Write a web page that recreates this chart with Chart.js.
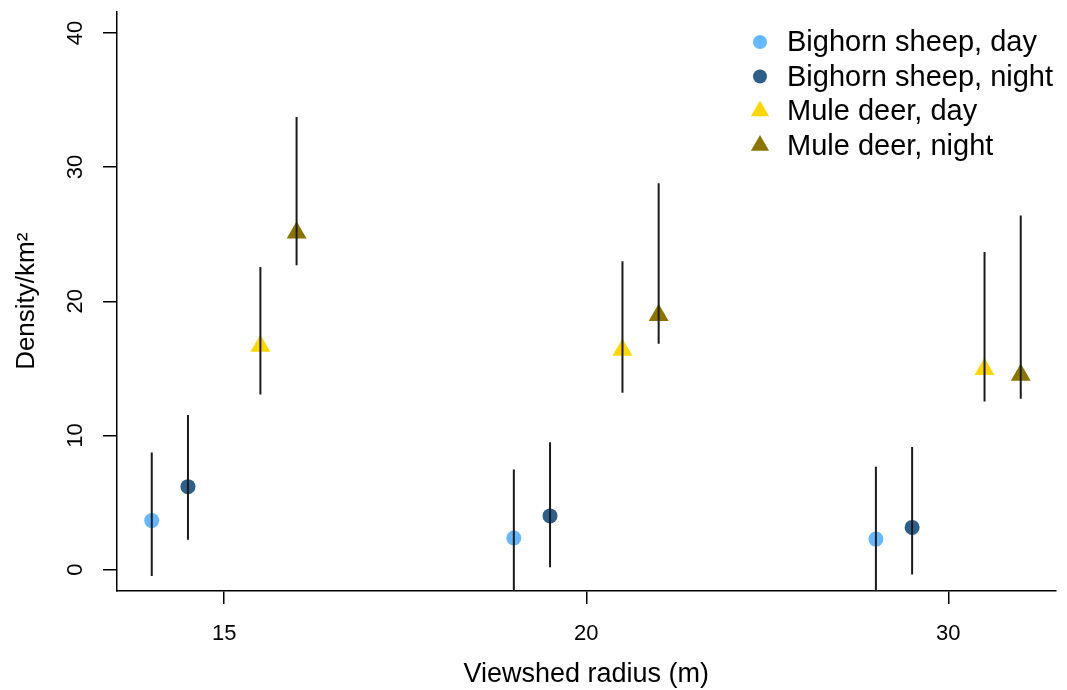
<!DOCTYPE html>
<html>
<head>
<meta charset="utf-8">
<script src="https://cdn.jsdelivr.net/npm/chart.js@4.4.1/dist/chart.umd.min.js"></script>
<style>
  html, body { margin: 0; padding: 0; background: #fff; }
  #wrap { position: relative; width: 1067px; height: 690px; }
</style>
</head>
<body>
<div id="wrap"><canvas id="densityChart"></canvas></div>
<script>
    // Categories and tick labels
    const radii = ['15', '20', '30'];
    const yTicks = [0, 10, 20, 30, 40];
    const groups = ['Bighorn sheep, day', 'Bighorn sheep, night', 'Mule deer, day', 'Mule deer, night'];
    const offsets = [-0.2, -0.1, 0.1, 0.2];

    // Density estimates and confidence limits (per km2)
    const sheepDay = [3.65, 2.35, 2.27];
    const sheepDayLo = [-0.49, -2.3, -2.5];
    const sheepDayHi = [8.72, 7.46, 7.66];

    const sheepNight = [6.18, 4.0, 3.14];
    const sheepNightLo = [2.22, 0.17, -0.37];
    const sheepNightHi = [11.52, 9.49, 9.14];

    const deerDay = [16.66, 16.37, 14.94];
    const deerDayLo = [13.05, 13.17, 12.53];
    const deerDayHi = [22.56, 22.98, 23.67];

    const deerNight = [25.1, 18.95, 14.5];
    const deerNightLo = [22.68, 16.83, 12.73];
    const deerNightHi = [33.73, 28.79, 26.39];

    const colors = ['#63B8FF', '#2E5E8A', '#FFD700', '#8B7500'];
    const styles = ['circle', 'circle', 'triangle', 'triangle'];
    const sizes = [7.5, 7.5, 11.5, 11.5];

    const series = [
        [sheepDay, sheepDayLo, sheepDayHi],
        [sheepNight, sheepNightLo, sheepNightHi],
        [deerDay, deerDayLo, deerDayHi],
        [deerNight, deerNightLo, deerNightHi]
    ];

    Chart.defaults.font.family = "'Liberation Sans', Arial, sans-serif";
    Chart.defaults.color = '#000';

    const datasets = series.map((s, k) => ({
        label: groups[k],
        data: s[0].map((v, i) => ({ x: i + 1 + offsets[k], y: v, lo: s[1][i], hi: s[2][i] })),
        pointStyle: styles[k],
        pointRadius: sizes[k],
        backgroundColor: colors[k],
        borderWidth: 0,
        showLine: false
    }));

    // vertical error bars, clipped to the plot region like base R
    const errorBars = {
        id: 'errorBars',
        afterDatasetsDraw(chart) {
            const { ctx, chartArea, scales } = chart;
            ctx.save();
            ctx.beginPath();
            ctx.rect(chartArea.left, chartArea.top, chartArea.right - chartArea.left, chartArea.bottom - chartArea.top);
            ctx.clip();
            ctx.strokeStyle = '#1a1a1a';
            ctx.lineWidth = 2;
            chart.data.datasets.forEach(ds => {
                ds.data.forEach(p => {
                    const x = scales.x.getPixelForValue(p.x);
                    ctx.beginPath();
                    ctx.moveTo(x, scales.y.getPixelForValue(p.lo));
                    ctx.lineTo(x, scales.y.getPixelForValue(p.hi));
                    ctx.stroke();
                });
            });
            ctx.restore();
        }
    };

    // legend in the top right corner, no box
    const cornerLegend = {
        id: 'cornerLegend',
        afterDraw(chart) {
            const ctx = chart.ctx;
            const x0 = 760, y0 = 42, step = 34.5;
            ctx.save();
            ctx.font = "29px 'Liberation Sans', Arial, sans-serif";
            ctx.textBaseline = 'middle';
            groups.forEach((g, k) => {
                const y = y0 + k * step;
                ctx.fillStyle = colors[k];
                ctx.beginPath();
                if (styles[k] === 'circle') {
                    ctx.arc(x0, y, 7, 0, Math.PI * 2);
                } else {
                    const r = 10.5;
                    ctx.moveTo(x0, y - r);
                    ctx.lineTo(x0 + r * 0.866, y + r / 2);
                    ctx.lineTo(x0 - r * 0.866, y + r / 2);
                    ctx.closePath();
                }
                ctx.fill();
                ctx.fillStyle = '#000';
                ctx.fillText(g, 787, y + 1);
            });
            ctx.restore();
        }
    };

    const noPad = s => {
        s.paddingTop = 0;
        s.paddingBottom = 0;
        s.paddingLeft = 0;
        s.paddingRight = 0;
    };

    const config = {
        type: 'scatter',
        data: { datasets: datasets },
        options: {
            responsive: false,
            animation: false,
            events: [],
            layout: { padding: { top: 10, right: 5, left: 0, bottom: 0 } },
            plugins: {
                legend: { display: false },
                tooltip: { enabled: false }
            },
            scales: {
                x: {
                    type: 'linear',
                    min: 0.704,
                    max: 3.296,
                    afterBuildTicks: s => { s.ticks = [1, 2, 3].map(v => ({ value: v })); },
                    afterFit: s => { s.height = 99; noPad(s); },
                    ticks: {
                        autoSkip: false,
                        maxRotation: 0,
                        padding: 17,
                        font: { size: 22 },
                        callback: v => radii[v - 1]
                    },
                    grid: { drawOnChartArea: false, tickLength: 13, color: '#000', lineWidth: 1.5 },
                    border: { display: true, color: '#000', width: 1.5 },
                    title: {
                        display: true,
                        text: 'Viewshed radius (m)',
                        font: { size: 27, lineHeight: 1 },
                        padding: { top: 0, bottom: 2 }
                    }
                },
                y: {
                    min: -1.6,
                    max: 41.6,
                    afterBuildTicks: s => { s.ticks = yTicks.map(v => ({ value: v })); },
                    afterFit: s => { s.width = 117; noPad(s); },
                    ticks: {
                        autoSkip: false,
                        minRotation: 90,
                        maxRotation: 90,
                        crossAlign: 'center',
                        padding: 15,
                        font: { size: 22 }
                    },
                    grid: { drawOnChartArea: false, tickLength: 14, color: '#000', lineWidth: 1.5 },
                    border: { display: true, color: '#000', width: 1.5 },
                    title: {
                        display: true,
                        text: 'Density/km\u00B2',
                        font: { size: 26, lineHeight: 1 },
                        padding: { top: 14, bottom: 0 }
                    }
                }
            }
        },
        plugins: [errorBars, cornerLegend]
    };

    const canvas = document.getElementById('densityChart');
    canvas.width = 1067;
    canvas.height = 690;
    new Chart(canvas, config);
</script>
</body>
</html>
